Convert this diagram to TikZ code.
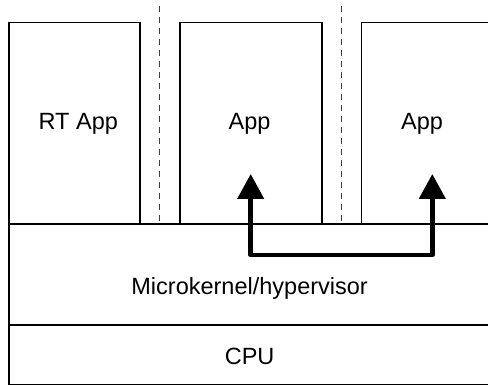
\documentclass[tikz,border=0pt]{standalone}
\usepackage{fontspec}
\setmainfont{Liberation Sans}
\usetikzlibrary{arrows.meta}
\begin{document}
\begin{tikzpicture}[x=1pt,y=-1pt,
  box/.style={draw=black,line width=1.5pt,rectangle,inner sep=0pt,anchor=north west},
  lbl/.style={font=\fontsize{23.5}{28}\selectfont,inner sep=0pt},
  sep/.style={draw=black!75,line width=1pt,dash pattern=on 6pt off 5pt},
  msg/.style={line width=4.5pt,line join=round,{Triangle[width=26pt,length=25pt]}-{Triangle[width=26pt,length=25pt]}}]
\useasboundingbox (0,0) rectangle (488,385);
% boxes
\node[box,minimum width=131.3pt,minimum height=201pt] (rt) at (8,22) {};
\node[box,minimum width=142pt,minimum height=201pt] (app1) at (179.3,22) {};
\node[box,minimum width=140pt,minimum height=201pt] (app2) at (360.7,22) {};
\node[box,minimum width=483pt,minimum height=101pt] (mk) at (8,223.3) {};
\node[box,minimum width=483pt,minimum height=59.5pt] (cpu) at (8,324.3) {};
% labels
\node[lbl] (rtl) at (78.3,124) {RT App};
\node[lbl] (app1l) at (249.5,124) {App};
\node[lbl] (app2l) at (422,124) {App};
\node[lbl] (mkl) at (249.6,288) {Microkernel/hypervisor};
\node[lbl] (cpul) at (249.6,356) {CPU};
% separators
\coordinate (s1t) at (159.3,6);
\coordinate (s1b) at (159.3,223.3);
\coordinate (s2t) at (341.3,6);
\coordinate (s2b) at (341.3,223.3);
\draw[sep] (s1t) -- (s1b);
\draw[sep] (s2t) -- (s2b);
% message arrow
\coordinate (tipL) at (250.7,174);
\coordinate (cL) at (250.7,255);
\coordinate (cR) at (432.3,255);
\coordinate (tipR) at (432.3,174);
\draw[msg] (tipL) -- (cL) -- (cR) -- (tipR);
\end{tikzpicture}
\end{document}
